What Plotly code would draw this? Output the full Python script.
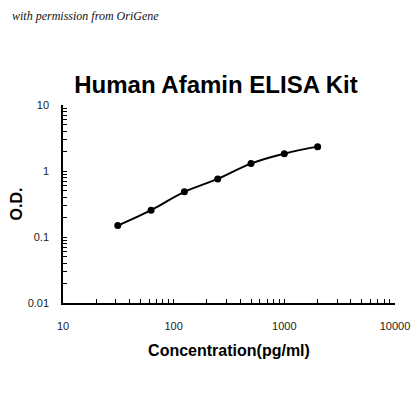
import plotly.graph_objects as go

# standard curve readings
concentracion = [31.25, 62.5, 125, 250, 500, 1000, 2000]
od = [0.149, 0.255, 0.483, 0.759, 1.295, 1.83, 2.34]

x_ticks = [10, 100, 1000, 10000]
y_ticks = [0.01, 0.1, 1, 10]

# page body has an 8px margin, so the figure is drawn 8px smaller and offset
W = 412
H = 412

fig = go.Figure(go.Scatter(
    x=concentracion,
    y=od,
    mode="lines+markers",
    line=dict(color="black", width=2, shape="spline", smoothing=1.2),
    marker=dict(color="black", size=7),
    cliponaxis=False,
    showlegend=False))

fig.update_xaxes(type="log", range=[1, 4], automargin=False,
                 tickvals=x_ticks, ticktext=[str(v) for v in x_ticks],
                 ticks="inside", ticklen=4, tickcolor="black",
                 minor=dict(ticks="inside", ticklen=4, tickcolor="black", dtick="D1"),
                 showline=True, linecolor="black", linewidth=1.5,
                 showgrid=False, zeroline=False,
                 ticklabelstandoff=12,
                 tickfont=dict(family="Liberation Sans", size=11, color="#222"),
                 title=dict(text="<b>Concentration(pg/ml)</b>", standoff=14,
                            font=dict(family="Liberation Sans", size=16, color="black")))

fig.update_yaxes(type="log", range=[-2, 1], automargin=False,
                 tickvals=y_ticks, ticktext=["0.01", "0.1", "1", "10"],
                 ticks="inside", ticklen=4, tickcolor="black",
                 minor=dict(ticks="inside", ticklen=4, tickcolor="black", dtick="D1"),
                 showline=True, linecolor="black", linewidth=1.5,
                 showgrid=False, zeroline=False,
                 ticklabelstandoff=10,
                 tickfont=dict(family="Liberation Sans", size=11, color="#222"),
                 title=dict(text="<b>O.D.</b>", standoff=14,
                            font=dict(family="Liberation Sans", size=16, color="black")))

fig.update_layout(
    width=W, height=H,
    margin=dict(l=55, r=25, t=97, b=117),
    paper_bgcolor="white", plot_bgcolor="white",
    title=dict(text="<b>Human Afamin ELISA Kit</b>", x=208 / W, xanchor="center",
               y=1 - 77 / H, yanchor="middle",
               font=dict(family="Liberation Sans", size=24, color="black")))

fig.add_annotation(text="<i>with permission from OriGene</i>",
                   xref="paper", yref="paper",
                   x=-53 / 332, y=1 + 89 / 198, xanchor="left", yanchor="middle",
                   showarrow=False,
                   font=dict(family="Liberation Serif", size=12, color="#111"))

fig.write_html("out.html")
